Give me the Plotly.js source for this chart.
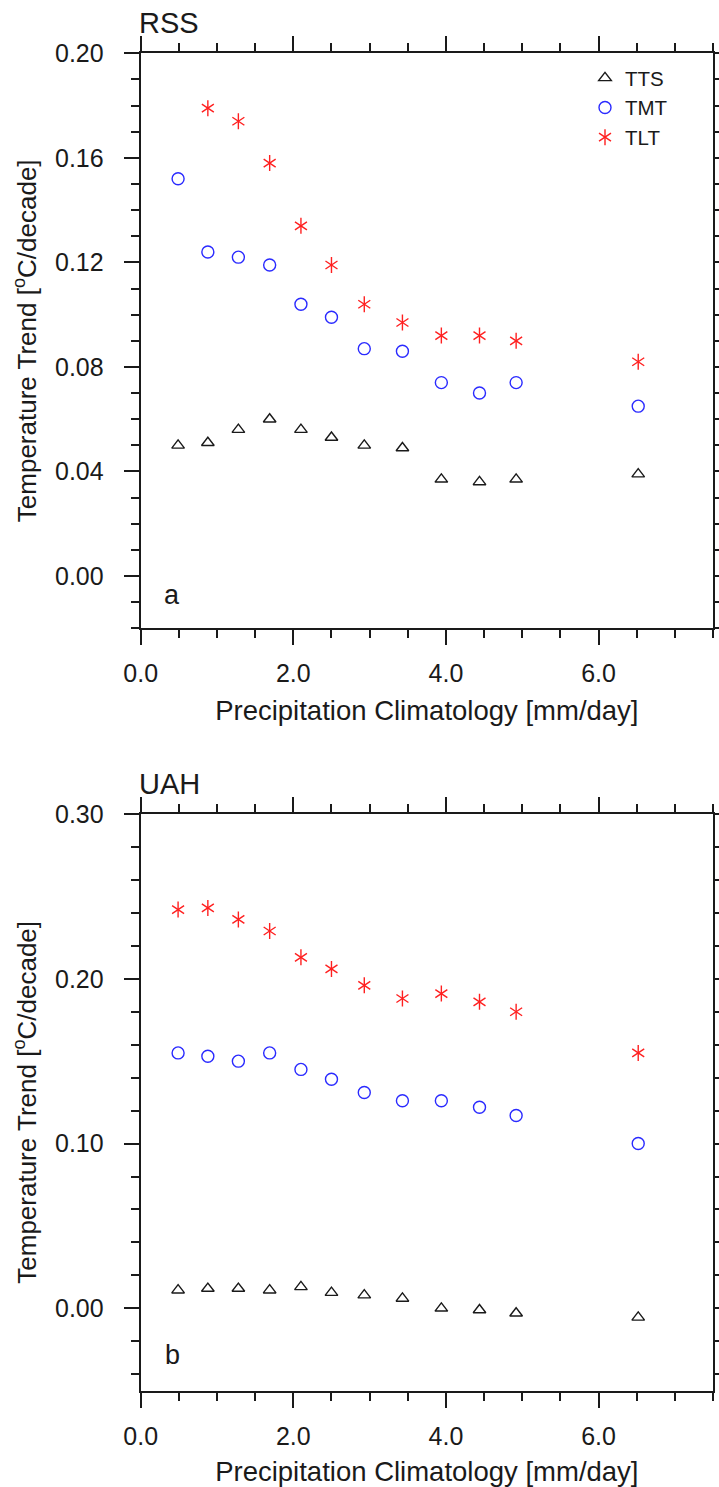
<!DOCTYPE html>
<html>
<head>
<meta charset="utf-8">
<script src="https://cdn.plot.ly/plotly-3.0.1.min.js"></script>
<style>html,body{margin:0;padding:0;background:#fff;}#chart{width:719px;height:1487px;}</style>
</head>
<body>
<div id="chart"></div>
<script>
// Precipitation climatology bins [mm/day]
const precip = [0.49, 0.88, 1.28, 1.69, 2.10, 2.50, 2.93, 3.43, 3.94, 4.44, 4.92, 6.52];
// RSS trends [degC/decade]
const rssTTS = [0.050, 0.051, 0.056, 0.060, 0.056, 0.053, 0.050, 0.049, 0.037, 0.036, 0.037, 0.039];
const rssTMT = [0.152, 0.124, 0.122, 0.119, 0.104, 0.099, 0.087, 0.086, 0.074, 0.070, 0.074, 0.065];
const rssTLT = [null, 0.179, 0.174, 0.158, 0.134, 0.119, 0.104, 0.097, 0.092, 0.092, 0.090, 0.082];
// UAH trends [degC/decade]
const uahTTS = [0.011, 0.012, 0.012, 0.011, 0.013, 0.0095, 0.008, 0.006, 0.000, -0.001, -0.003, -0.0055];
const uahTMT = [0.155, 0.153, 0.150, 0.155, 0.145, 0.139, 0.131, 0.126, 0.126, 0.122, 0.117, 0.100];
const uahTLT = [0.242, 0.243, 0.236, 0.229, 0.213, 0.206, 0.196, 0.188, 0.191, 0.186, 0.180, 0.155];
const seriesNames = ['TTS', 'TMT', 'TLT'];
const panelTitles = ['RSS', 'UAH'];
const panelLetters = ['a', 'b'];
const xTitle = 'Precipitation Climatology [mm/day]';
const yTitle = 'Temperature Trend [<sup>o</sup>C/decade]';

const W = 719, H = 1487;
const FONT = 'Liberation Sans, Arial, Helvetica, sans-serif';
const INK = '#1a1a1a';
const BLUE = '#2a2aff';
const RED = '#ff2020';
const CLEAR = 'rgba(0,0,0,0)';

function px2x(p) { return p / W; }
function px2y(p) { return (H - p) / H; }

function panelTraces(xa, ya, tts, tmt, tlt, legend) {
  return [
    {x: precip, y: tts, xaxis: xa, yaxis: ya, mode: 'markers', type: 'scatter', name: seriesNames[0],
     showlegend: legend, legend: 'legend',
     marker: {symbol: 'triangle-up-open', size: 11, color: INK, line: {width: 1.4, color: INK}}},
    {x: precip, y: tmt, xaxis: xa, yaxis: ya, mode: 'markers', type: 'scatter', name: seriesNames[1],
     showlegend: legend, legend: 'legend',
     marker: {symbol: 'circle-open', size: 12, color: BLUE, line: {width: 1.4, color: BLUE}}},
    {x: precip, y: tlt, xaxis: xa, yaxis: ya, mode: 'markers', type: 'scatter', name: seriesNames[2],
     showlegend: legend, legend: 'legend',
     marker: {symbol: 'y-up-open', size: 10, color: RED, line: {width: 1.4, color: RED}}},
    {x: precip, y: tlt, xaxis: xa, yaxis: ya, mode: 'markers', type: 'scatter', name: seriesNames[2],
     showlegend: legend, legend: 'legend2',
     marker: {symbol: 'y-down-open', size: 10, color: RED, line: {width: 1.4, color: RED}}}
  ];
}

// invisible placeholders so the second (overlay) legend's TLT row lines up with the first legend's
const placeholders = [
  {x: [null], y: [null], xaxis: 'x', yaxis: 'y', mode: 'markers', type: 'scatter', name: seriesNames[0],
   legend: 'legend2', hoverinfo: 'skip',
   marker: {symbol: 'triangle-up-open', size: 11, color: CLEAR, line: {width: 0, color: CLEAR}}},
  {x: [null], y: [null], xaxis: 'x', yaxis: 'y', mode: 'markers', type: 'scatter', name: seriesNames[1],
   legend: 'legend2', hoverinfo: 'skip',
   marker: {symbol: 'circle-open', size: 12, color: CLEAR, line: {width: 0, color: CLEAR}}}
];

const rss = panelTraces('x', 'y', rssTTS, rssTMT, rssTLT, true);
const uah = panelTraces('x2', 'y2', uahTTS, uahTMT, uahTLT, false);
const data = [rss[0], rss[1], rss[2], placeholders[0], placeholders[1], rss[3]].concat(uah);

const plotL = 140.7, plotR = 713;
const aTop = 53.3, aBot = 628.3, bTop = 814, bBot = 1390.7;

function xAxis(anchor) {
  return {
    domain: [px2x(plotL), px2x(plotR)], anchor: anchor, range: [0, 7.5],
    tickmode: 'linear', tick0: 0, dtick: 2, tickformat: '.1f',
    ticks: 'outside', ticklen: 15, tickwidth: 2, tickcolor: INK,
    minor: {ticks: 'outside', ticklen: 8, tickwidth: 2, tickcolor: INK, dtick: 0.5, tick0: 0, showgrid: false},
    showline: true, linewidth: 2, linecolor: INK, mirror: 'ticks',
    showgrid: false, zeroline: false, automargin: false,
    tickfont: {family: FONT, size: 25, color: INK}, ticklabelstandoff: 7,
    title: {text: xTitle, font: {family: FONT, size: 27.5, color: INK}, standoff: 14}
  };
}
function yAxis(anchor, top, bot, range, dtick, minorDtick) {
  return {
    domain: [px2y(bot), px2y(top)], anchor: anchor, range: range,
    tickmode: 'linear', tick0: 0, dtick: dtick, tickformat: '.2f',
    ticks: 'outside', ticklen: 15, tickwidth: 2, tickcolor: INK,
    minor: {ticks: 'outside', ticklen: 8, tickwidth: 2, tickcolor: INK, dtick: minorDtick, tick0: 0, showgrid: false},
    showline: true, linewidth: 2, linecolor: INK, mirror: 'ticks',
    showgrid: false, zeroline: false, automargin: false,
    tickfont: {family: FONT, size: 25, color: INK}, ticklabelstandoff: 15,
    title: {text: yTitle, font: {family: FONT, size: 26, color: INK}, standoff: 11}
  };
}

const legendBase = {x: px2x(585), y: px2y(58), xanchor: 'left', yanchor: 'top',
  bgcolor: CLEAR, borderwidth: 0, tracegroupgap: 0, traceorder: 'normal',
  itemwidth: 30};

const layout = {
  width: W, height: H,
  margin: {l: 0, r: 0, t: 0, b: 0, autoexpand: false},
  paper_bgcolor: '#fff', plot_bgcolor: '#fff',
  showlegend: true,
  legend: Object.assign({}, legendBase, {font: {family: FONT, size: 20.5, color: INK}}),
  legend2: Object.assign({}, legendBase, {font: {family: FONT, size: 20.5, color: CLEAR}}),
  xaxis: xAxis('y'),
  yaxis: yAxis('x', aTop, aBot, [-0.02, 0.20], 0.04, 0.01),
  xaxis2: xAxis('y2'),
  yaxis2: yAxis('x2', bTop, bBot, [-0.05, 0.30], 0.1, 0.02),
  annotations: [
    {text: panelTitles[0], xref: 'paper', yref: 'paper', x: px2x(137), y: px2y(41), xanchor: 'left', yanchor: 'bottom',
     showarrow: false, font: {family: FONT, size: 29, color: INK}},
    {text: panelTitles[1], xref: 'paper', yref: 'paper', x: px2x(137), y: px2y(802), xanchor: 'left', yanchor: 'bottom',
     showarrow: false, font: {family: FONT, size: 29, color: INK}},
    {text: panelLetters[0], xref: 'x domain', yref: 'y domain', x: 0.055, y: 0.058, xanchor: 'center', yanchor: 'middle',
     showarrow: false, font: {family: FONT, size: 27, color: INK}},
    {text: panelLetters[1], xref: 'x2 domain', yref: 'y2 domain', x: 0.055, y: 0.062, xanchor: 'center', yanchor: 'middle',
     showarrow: false, font: {family: FONT, size: 27, color: INK}}
  ]
};

Plotly.newPlot('chart', data, layout, {staticPlot: true, displayModeBar: false});
</script>
</body>
</html>
